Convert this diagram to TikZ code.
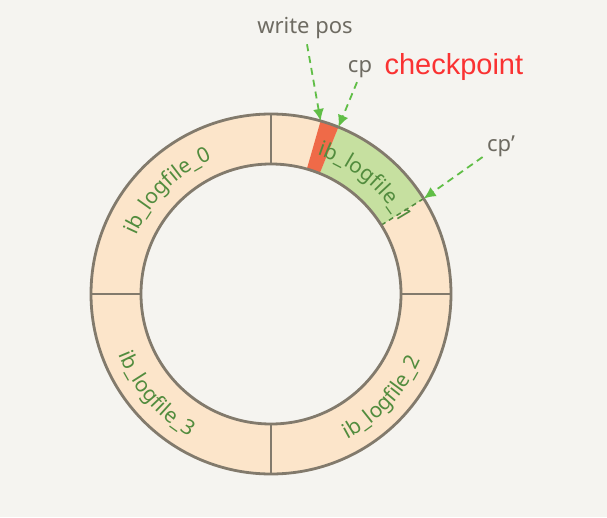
\documentclass[tikz,border=0pt]{standalone}
\usepackage{fontspec}
\setmainfont{Noto Sans}
\newfontfamily\checkfont{Liberation Sans}
\usetikzlibrary{arrows.meta,decorations.text}
\definecolor{logBack}{RGB}{245,244,240}
\definecolor{logCream}{RGB}{252,229,202}
\definecolor{logGreen}{RGB}{198,224,160}
\definecolor{logRed}{RGB}{239,106,72}
\definecolor{logEdge}{RGB}{130,122,108}
\definecolor{logText}{RGB}{82,140,62}
\definecolor{logArrow}{RGB}{96,190,70}
\definecolor{logGray}{RGB}{110,107,98}
\definecolor{logCheck}{RGB}{250,50,50}

\begin{document}
\begin{tikzpicture}[
    x=1pt, y=1pt,
    ring/.style={draw=logEdge,line width=2.8pt},
    pointer/.style={logArrow,line width=1.8pt,dash pattern=on 7pt off 5pt,
      -{Latex[length=12pt,width=11pt]}},
    hand/.style={text=logGray,font=\fontsize{22}{22}\selectfont},
    fileline/.style={decorate,decoration={text along path,text align=center,
      text={|\fontsize{21}{21}\selectfont\color{logText}|#1}}},
  ]
  % Ring: outer radius 180, inner radius 130, centre at the origin
  \def\R{180}
  \def\r{130}
  \useasboundingbox (-271,-223) rectangle (336,294);
  \fill[logBack] (-271,-223) rectangle (336,294);

  % The four log files
  \fill[logCream,even odd rule] (0,0) circle[radius=\R] (0,0) circle[radius=\r];

  % Space between checkpoint and cp' (green), and the part being written (red)
  \fill[logGreen] (32:\r) -- (32:\R) arc[start angle=32,end angle=68,radius=\R]
    -- (68:\r) arc[start angle=68,end angle=32,radius=\r] -- cycle;
  \fill[logRed] (68:\r) -- (68:\R) arc[start angle=68,end angle=74,radius=\R]
    -- (74:\r) arc[start angle=74,end angle=68,radius=\r] -- cycle;
  \draw[logText,line width=1.5pt,dash pattern=on 5pt off 4pt] (32:\r) -- (32:\R);

  % File names along the ring
  \path[fileline={ib{\_}logfile{\_}0}] (166:147) arc[start angle=166,end angle=104,radius=147];
  \path[fileline={ib{\_}logfile{\_}1}] (78:147) arc[start angle=78,end angle=22,radius=147];
  \path[fileline={ib{\_}logfile{\_}2}] (-74:164) arc[start angle=-74,end angle=-12,radius=164];
  \path[fileline={ib{\_}logfile{\_}3}] (-170:164) arc[start angle=-170,end angle=-108,radius=164];

  % Outline and dividers
  \draw[ring] (0,0) circle[radius=\R];
  \draw[ring] (0,0) circle[radius=\r];
  \foreach \a in {0,90,180,270}
    \draw[logEdge,line width=1.5pt] (\a:\r) -- (\a:\R);

  % Positions on the ring
  \coordinate (wpos) at (74:\R);
  \coordinate (cpos) at (68:\R);
  \coordinate (cprime) at (32:\R);

  % Labels and pointers
  \node[hand] (writepos) at (34,266) {write pos};
  \node[hand] (cp) at (89,225) {cp};
  \node[anchor=base west,text=logCheck,font=\checkfont\fontsize{29}{29}\selectfont]
    (checkpoint) at (110,219) {checkpoint};
  \node[hand] (cpp) at (230,148) {cp'};

  \draw[pointer] (writepos.south) ++(2,-2) -- (wpos);
  \draw[pointer] (cp.south) ++(-3,-1) -- (cpos);
  \draw[pointer] (cpp.south west) ++(-1,3) -- (cprime);
\end{tikzpicture}
\end{document}
